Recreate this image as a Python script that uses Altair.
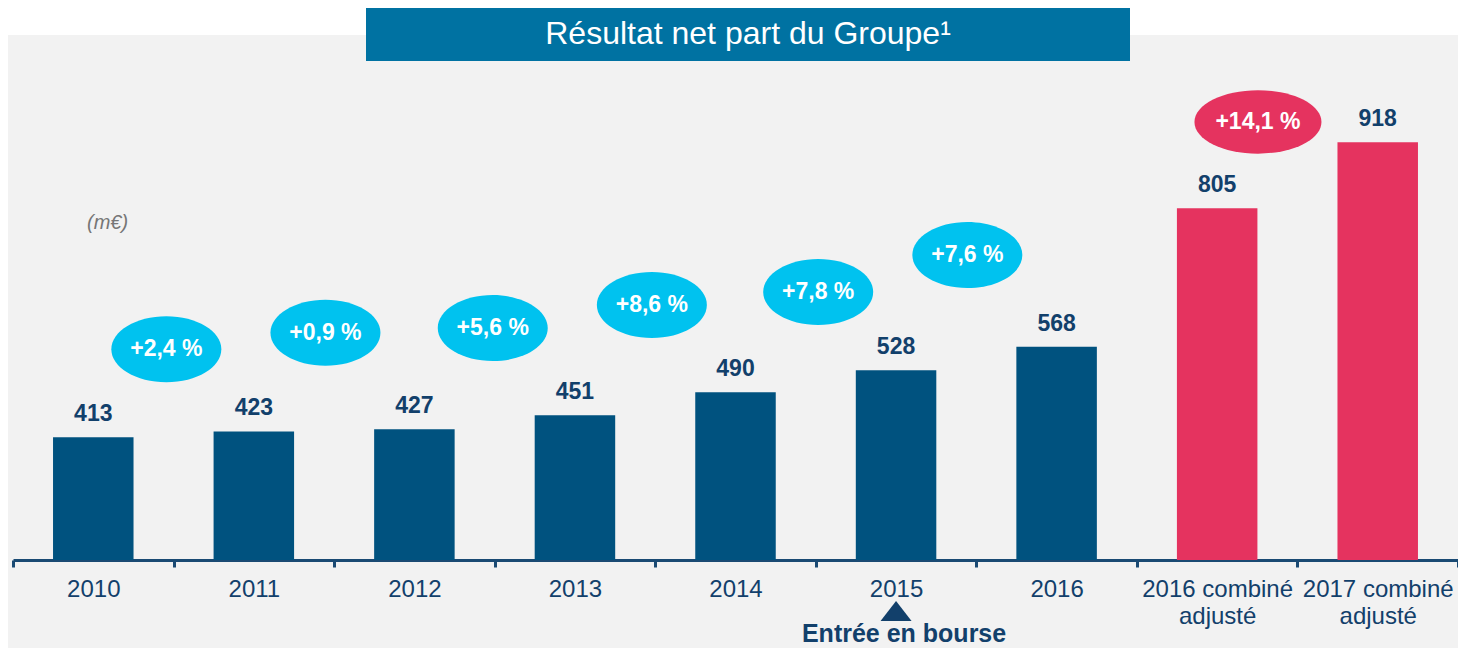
import altair as alt
import pandas as pd

# ---- data ----
categories = ["2010", "2011", "2012", "2013", "2014", "2015", "2016",
              "2016 combiné\nadjusté", "2017 combiné\nadjusté"]
values = [413, 423, 427, 451, 490, 528, 568, 805, 918]
groups = ["publié"] * 7 + ["combiné"] * 2

growth_labels = ["+2,4 %", "+0,9 %", "+5,6 %", "+8,6 %", "+7,8 %", "+7,6 %", "+14,1 %"]
growth_groups = ["publié"] * 6 + ["combiné"]
# bubble centres: x in bar slots (0..9), y in m€ on the value scale
growth_x = [0.955, 1.946, 2.988, 3.979, 5.015, 5.944, 7.754]
growth_y = [564, 592, 600, 639.5, 662, 725, 953]

title_text = "Résultat net part du Groupe¹"
unit_text = "(m€)"
ipo_category = "2015"
ipo_text = "Entrée en bourse"

# ---- styles ----
BG = "#F2F2F2"
BLUE = "#00527F"
RED = "#E5335F"
CYAN = "#00C2EF"
BANNER = "#0072A2"
NAVY = "#12406B"
AXIS = "#1A4A73"
FONT = "Liberation Sans"

W, H = 1445, 552
Y_MIN, Y_MAX = 203, 1148

ELLIPSE_C = "M-1,0A1,0.6,0,1,1,1,0A1,0.6,0,1,1,-1,0Z"
ELLIPSE_R = "M-1,0A1,0.5,0,1,1,1,0A1,0.5,0,1,1,-1,0Z"
TRIANGLE = "M0,-0.65L1,0.65L-1,0.65Z"

bars_df = pd.DataFrame({"cat": categories, "value": values, "group": groups})
g_df = pd.DataFrame({"u": growth_x, "v": growth_y, "label": growth_labels, "group": growth_groups})
g_df["cat"] = [categories[int(u)] for u in growth_x]
g_df["frac"] = [u - int(u) for u in growth_x]
ipo_df = pd.DataFrame({"cat": [ipo_category], "label": [ipo_text]})
one = pd.DataFrame({"a": [0]})

y_scale = alt.Scale(domain=[Y_MIN, Y_MAX], zero=False, nice=False)
x_scale = alt.Scale(domain=categories, paddingInner=0, paddingOuter=0)
off_scale = alt.Scale(domain=[0, 1], nice=False, zero=False)

x_axis = alt.Axis(
    title=None, labelExpr="split(datum.label, '\\n')", labelAngle=0,
    labelFontSize=24, labelColor=NAVY, labelFont=FONT, labelPadding=10,
    labelLineHeight=27, labelBaseline="top", tickBand="extent", tickSize=7,
    tickWidth=3, tickColor=AXIS, domainColor=AXIS, domainWidth=3, grid=False,
)

def X():
    return alt.X("cat:N", sort=categories, scale=x_scale, axis=x_axis)

bars = alt.Chart(bars_df).mark_bar(width=80.5).encode(
    x=X(),
    y=alt.Y("value:Q", scale=y_scale, axis=None),
    y2=alt.datum(Y_MIN),
    color=alt.Color("group:N", scale=alt.Scale(domain=["publié", "combiné"], range=[BLUE, RED]), legend=None),
)

vals = alt.Chart(bars_df).mark_text(
    font=FONT, fontSize=23, fontWeight="bold", color=NAVY, baseline="alphabetic", dy=-16
).encode(
    x=X(),
    y=alt.Y("value:Q", scale=y_scale, axis=None),
    text="value:Q",
)

tri = alt.Chart(ipo_df).mark_point(
    shape=TRIANGLE, filled=True, size=961, color=NAVY, opacity=1, strokeWidth=0
).encode(x=X(), y=alt.value(603))

ipo = alt.Chart(ipo_df).mark_text(
    font=FONT, fontSize=25, fontWeight="bold", color=NAVY, baseline="alphabetic", dx=8
).encode(x=X(), y=alt.value(634), text="label:N")

ell_c = alt.Chart(g_df).transform_filter("datum.group == 'publié'").mark_point(
    shape=ELLIPSE_C, filled=True, size=12100, color=CYAN, opacity=1, strokeWidth=0
).encode(
    x=X(),
    xOffset=alt.XOffset("frac:Q", scale=off_scale),
    y=alt.Y("v:Q", scale=y_scale, axis=None),
)
ell_r = alt.Chart(g_df).transform_filter("datum.group == 'combiné'").mark_point(
    shape=ELLIPSE_R, filled=True, size=16129, color=RED, opacity=1, strokeWidth=0
).encode(
    x=X(),
    xOffset=alt.XOffset("frac:Q", scale=off_scale),
    y=alt.Y("v:Q", scale=y_scale, axis=None),
)
pct = alt.Chart(g_df).mark_text(
    font=FONT, fontSize=23, fontWeight="bold", color="white", baseline="middle", align="center"
).encode(
    x=X(),
    xOffset=alt.XOffset("frac:Q", scale=off_scale),
    y=alt.Y("v:Q", scale=y_scale, axis=None),
    text="label:N",
)

strip = alt.Chart(one).mark_rect(color="white").encode(
    x=alt.value(-5), x2=alt.value(W), y=alt.value(0), y2=alt.value(27)
)
banner = alt.Chart(one).mark_rect(color=BANNER).encode(
    x=alt.value(353), x2=alt.value(1117), y=alt.value(0), y2=alt.value(53)
)
title = alt.Chart(one).mark_text(
    text=title_text, font=FONT, fontSize=32, color="white", align="center", baseline="alphabetic"
).encode(x=alt.value(735), y=alt.value(36))
unit = alt.Chart(one).mark_text(
    text=unit_text, font=FONT, fontSize=20, fontStyle="italic", color="#767676",
    align="left", baseline="alphabetic"
).encode(x=alt.value(74), y=alt.value(221))

chart = alt.layer(strip, banner, title, unit, bars, vals, tri, ipo, ell_c, ell_r, pct).properties(
    width=W, height=H,
    padding={"left": 5, "top": 0, "right": 0, "bottom": 88},
    autosize=alt.AutoSizeParams(type="none"),
    background=BG,
).configure_view(stroke=None)

chart.save("out.html", embed_options={"renderer": "svg", "actions": False})
